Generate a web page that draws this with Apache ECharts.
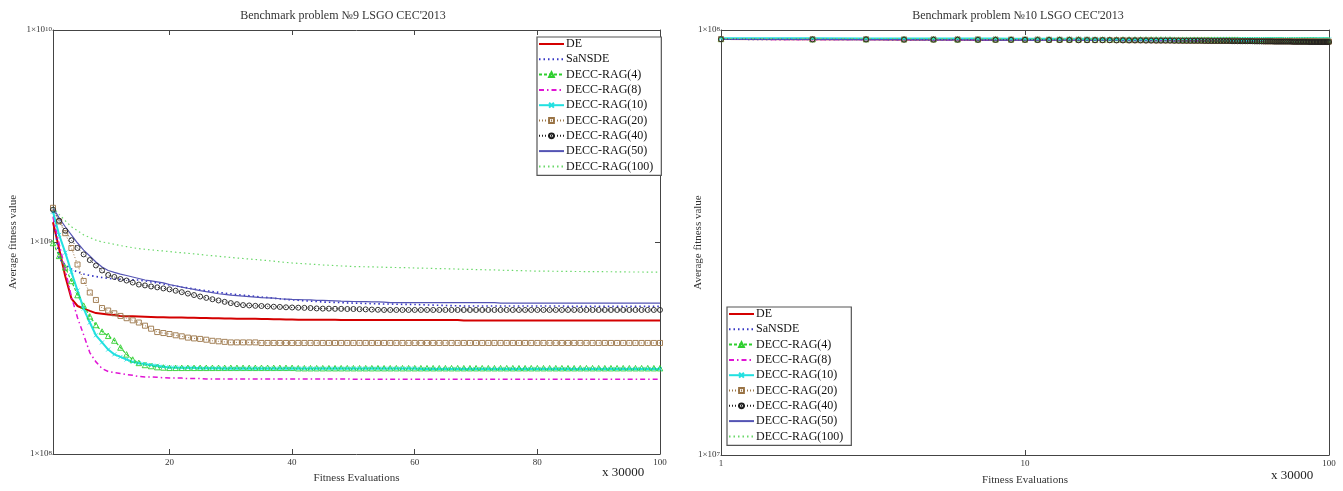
<!DOCTYPE html>
<html>
<head>
<meta charset="utf-8">
<script src="https://cdn.jsdelivr.net/npm/echarts@6/dist/echarts.min.js"></script>
<style>
  html, body { margin: 0; padding: 0; background: #fff; }
  #chart { width: 1343px; height: 491px; }
</style>
</head>
<body>
<div id="chart"></div>
<script>
// Algorithms compared on both benchmark problems
const NAMES = ['DE', 'SaNSDE', 'DECC-RAG(4)', 'DECC-RAG(8)', 'DECC-RAG(10)',
               'DECC-RAG(20)', 'DECC-RAG(40)', 'DECC-RAG(50)', 'DECC-RAG(100)'];

// Evaluation checkpoints 1..100 (each step = 30000 fitness evaluations)
const STEPS = Array.from({ length: 100 }, (_, i) => i + 1);

// Tick labels
const P9_X_TICKS = [20, 40, 60, 80, 100];
const P10_X_TICKS = [1, 10, 100];

// ---- Problem 9: average fitness, in units of 1e8 ----
const P9_UNIT = 1e8;
const P9_DE = [12.4, 9.3, 6.9, 5.41, 4.99, 4.85, 4.73, 4.62, 4.59, 4.55,
  4.52, 4.48, 4.47, 4.46, 4.45, 4.44, 4.43, 4.42, 4.42, 4.41,
  4.40, 4.40, 4.39, 4.39, 4.38, 4.38, 4.37, 4.37, 4.36, 4.36,
  4.35, 4.35, 4.34, 4.34, 4.33, 4.33, 4.32, 4.32, 4.31, 4.31,
  4.30, 4.30, 4.30, 4.30, 4.30, 4.30, 4.30, 4.29, 4.29, 4.29,
  4.29, 4.29, 4.29, 4.29, 4.29, 4.29, 4.29, 4.29, 4.29, 4.29,
  4.29, 4.29, 4.29, 4.29, 4.29, 4.29, 4.29, 4.26, 4.26, 4.26,
  4.26, 4.26, 4.26, 4.26, 4.26, 4.26, 4.26, 4.26, 4.26, 4.26,
  4.26, 4.26, 4.26, 4.26, 4.26, 4.26, 4.26, 4.26, 4.26, 4.26,
  4.26, 4.26, 4.26, 4.26, 4.26, 4.26, 4.26, 4.26, 4.26, 4.26];
const P9_SANSDE = [13.9, 8.32, 7.79, 7.46, 7.21, 7.06, 6.95, 6.87, 6.80, 6.74,
  6.69, 6.65, 6.64, 6.63, 6.62, 6.55, 6.48, 6.41, 6.34, 6.27,
  6.20, 6.13, 6.07, 6.00, 5.94, 5.89, 5.84, 5.79, 5.74, 5.69,
  5.65, 5.61, 5.58, 5.54, 5.50, 5.47, 5.43, 5.40, 5.36, 5.33,
  5.31, 5.28, 5.26, 5.24, 5.21, 5.20, 5.19, 5.18, 5.16, 5.15,
  5.14, 5.13, 5.12, 5.11, 5.10, 5.10, 5.09, 5.08, 5.08, 5.07,
  5.06, 5.05, 5.04, 5.03, 5.02, 5.01, 5.00, 4.99, 4.99, 4.99,
  4.99, 4.99, 4.99, 4.99, 4.99, 4.99, 4.99, 4.99, 4.99, 4.99,
  4.99, 4.99, 4.99, 4.99, 4.97, 4.97, 4.97, 4.97, 4.97, 4.97,
  4.97, 4.97, 4.97, 4.97, 4.97, 4.97, 4.97, 4.97, 4.97, 4.97];
const P9_RAG4 = [9.89, 8.60, 7.59, 6.55, 5.62, 5.01, 4.46, 4.06, 3.78, 3.61,
  3.43, 3.18, 2.95, 2.79, 2.69, 2.63, 2.60, 2.57, 2.56, 2.55,
  2.55, 2.55, 2.55, 2.55, 2.55, 2.55, 2.55, 2.55, 2.55, 2.55,
  2.55, 2.55, 2.55, 2.55, 2.55, 2.55, 2.55, 2.55, 2.55, 2.55,
  2.54, 2.54, 2.54, 2.54, 2.54, 2.54, 2.54, 2.54, 2.54, 2.54,
  2.54, 2.54, 2.54, 2.54, 2.54, 2.54, 2.54, 2.54, 2.54, 2.54,
  2.54, 2.54, 2.54, 2.54, 2.54, 2.54, 2.54, 2.54, 2.54, 2.54,
  2.54, 2.54, 2.54, 2.54, 2.54, 2.54, 2.54, 2.54, 2.54, 2.54,
  2.54, 2.54, 2.54, 2.54, 2.54, 2.54, 2.54, 2.54, 2.54, 2.54,
  2.54, 2.54, 2.54, 2.54, 2.54, 2.54, 2.54, 2.54, 2.54, 2.54];
const P9_RAG8 = [13.1, 9.8, 7.38, 5.53, 4.39, 3.65, 3.01, 2.72, 2.53, 2.45,
  2.42, 2.40, 2.37, 2.35, 2.32, 2.31, 2.31, 2.30, 2.29, 2.28,
  2.28, 2.28, 2.27, 2.27, 2.27, 2.26, 2.26, 2.26, 2.26, 2.26,
  2.26, 2.26, 2.26, 2.26, 2.26, 2.26, 2.26, 2.26, 2.26, 2.26,
  2.26, 2.26, 2.26, 2.26, 2.26, 2.26, 2.26, 2.26, 2.26, 2.25,
  2.25, 2.25, 2.25, 2.25, 2.25, 2.25, 2.25, 2.25, 2.25, 2.25,
  2.25, 2.25, 2.25, 2.25, 2.25, 2.25, 2.25, 2.25, 2.25, 2.25,
  2.25, 2.25, 2.25, 2.25, 2.25, 2.25, 2.25, 2.25, 2.25, 2.25,
  2.25, 2.25, 2.25, 2.25, 2.25, 2.25, 2.25, 2.25, 2.25, 2.25,
  2.25, 2.25, 2.25, 2.25, 2.25, 2.25, 2.25, 2.25, 2.25, 2.25];
const P9_RAG10 = [13.9, 10.8, 8.91, 7.21, 5.90, 4.85, 4.17, 3.63, 3.36, 3.11,
  2.95, 2.87, 2.79, 2.72, 2.68, 2.66, 2.63, 2.61, 2.58, 2.56,
  2.56, 2.55, 2.55, 2.55, 2.54, 2.54, 2.54, 2.54, 2.53, 2.53,
  2.53, 2.53, 2.53, 2.53, 2.53, 2.53, 2.53, 2.53, 2.53, 2.53,
  2.53, 2.53, 2.53, 2.53, 2.53, 2.53, 2.53, 2.53, 2.53, 2.53,
  2.53, 2.53, 2.53, 2.53, 2.53, 2.53, 2.53, 2.53, 2.53, 2.53,
  2.52, 2.52, 2.52, 2.52, 2.52, 2.52, 2.52, 2.52, 2.52, 2.52,
  2.52, 2.52, 2.52, 2.52, 2.52, 2.52, 2.52, 2.52, 2.52, 2.52,
  2.52, 2.52, 2.52, 2.52, 2.52, 2.52, 2.52, 2.52, 2.52, 2.52,
  2.52, 2.52, 2.52, 2.52, 2.52, 2.52, 2.52, 2.52, 2.52, 2.52];
const P9_RAG20 = [14.5, 12.5, 11.0, 9.37, 7.83, 6.55, 5.78, 5.33, 4.88, 4.75,
  4.61, 4.48, 4.37, 4.27, 4.17, 4.03, 3.90, 3.76, 3.72, 3.68,
  3.63, 3.59, 3.54, 3.51, 3.49, 3.46, 3.42, 3.40, 3.38, 3.36,
  3.36, 3.36, 3.36, 3.36, 3.34, 3.34, 3.34, 3.34, 3.34, 3.34,
  3.34, 3.34, 3.34, 3.34, 3.34, 3.34, 3.34, 3.34, 3.34, 3.34,
  3.34, 3.34, 3.34, 3.34, 3.34, 3.34, 3.34, 3.34, 3.34, 3.34,
  3.34, 3.34, 3.34, 3.34, 3.34, 3.34, 3.34, 3.34, 3.34, 3.34,
  3.34, 3.34, 3.34, 3.34, 3.34, 3.34, 3.34, 3.34, 3.34, 3.34,
  3.34, 3.34, 3.34, 3.34, 3.34, 3.34, 3.34, 3.34, 3.34, 3.34,
  3.34, 3.34, 3.34, 3.34, 3.34, 3.34, 3.34, 3.34, 3.34, 3.34];
const P9_RAG40 = [14.2, 12.6, 11.3, 10.2, 9.37, 8.74, 8.22, 7.75, 7.34, 6.99,
  6.84, 6.69, 6.58, 6.44, 6.30, 6.24, 6.17, 6.11, 6.04, 5.98,
  5.89, 5.80, 5.71, 5.62, 5.53, 5.45, 5.37, 5.30, 5.22, 5.15,
  5.09, 5.04, 5.02, 5.00, 4.99, 4.97, 4.95, 4.94, 4.92, 4.91,
  4.90, 4.89, 4.88, 4.86, 4.85, 4.85, 4.84, 4.84, 4.83, 4.83,
  4.82, 4.81, 4.80, 4.79, 4.78, 4.78, 4.78, 4.78, 4.78, 4.78,
  4.78, 4.78, 4.78, 4.78, 4.78, 4.78, 4.78, 4.78, 4.78, 4.78,
  4.78, 4.78, 4.78, 4.78, 4.78, 4.78, 4.78, 4.78, 4.78, 4.78,
  4.78, 4.78, 4.78, 4.78, 4.78, 4.78, 4.78, 4.78, 4.78, 4.78,
  4.78, 4.78, 4.78, 4.78, 4.78, 4.78, 4.78, 4.78, 4.78, 4.78];
const P9_RAG50 = [14.5, 13.0, 11.8, 10.8, 9.89, 9.16, 8.59, 8.05, 7.62, 7.34,
  7.19, 7.06, 6.95, 6.84, 6.73, 6.62, 6.55, 6.48, 6.41, 6.30,
  6.22, 6.13, 6.05, 5.98, 5.90, 5.83, 5.77, 5.70, 5.66, 5.62,
  5.59, 5.56, 5.53, 5.50, 5.47, 5.45, 5.43, 5.40, 5.38, 5.36,
  5.35, 5.34, 5.33, 5.31, 5.30, 5.29, 5.28, 5.26, 5.25, 5.24,
  5.23, 5.23, 5.22, 5.22, 5.21, 5.18, 5.18, 5.18, 5.18, 5.18,
  5.18, 5.18, 5.18, 5.18, 5.18, 5.18, 5.18, 5.18, 5.18, 5.18,
  5.18, 5.18, 5.18, 5.15, 5.15, 5.15, 5.15, 5.15, 5.15, 5.15,
  5.15, 5.15, 5.15, 5.15, 5.15, 5.15, 5.15, 5.15, 5.15, 5.15,
  5.15, 5.15, 5.15, 5.15, 5.15, 5.15, 5.15, 5.15, 5.15, 5.15];
const P9_RAG100 = [14.6, 13.5, 12.6, 11.8, 11.3, 10.8, 10.5, 10.2, 10.0, 9.89,
  9.75, 9.62, 9.51, 9.40, 9.30, 9.24, 9.18, 9.12, 9.07, 9.01,
  8.95, 8.90, 8.84, 8.79, 8.73, 8.67, 8.62, 8.56, 8.51, 8.45,
  8.40, 8.36, 8.31, 8.27, 8.22, 8.17, 8.12, 8.06, 8.01, 7.96,
  7.93, 7.90, 7.86, 7.83, 7.79, 7.77, 7.74, 7.71, 7.69, 7.66,
  7.65, 7.64, 7.63, 7.62, 7.60, 7.59, 7.58, 7.57, 7.56, 7.54,
  7.53, 7.52, 7.50, 7.49, 7.48, 7.47, 7.45, 7.44, 7.43, 7.41,
  7.40, 7.39, 7.38, 7.36, 7.35, 7.34, 7.33, 7.32, 7.30, 7.29,
  7.29, 7.28, 7.28, 7.27, 7.27, 7.26, 7.26, 7.25, 7.25, 7.25,
  7.24, 7.24, 7.23, 7.23, 7.22, 7.22, 7.22, 7.21, 7.21, 7.21];

// ---- Problem 10: average fitness, in units of 1e6 ----
const P10_UNIT = 1e6;
const P10_DE = [95.2, 95.1, 95.1, 95.0, 95.0, 95.0, 94.9, 94.9, 94.9, 94.9,
  94.8, 94.8, 94.8, 94.8, 94.8, 94.8, 94.8, 94.8, 94.8, 94.8,
  94.7, 94.7, 94.7, 94.7, 94.7, 94.7, 94.7, 94.7, 94.7, 94.7,
  94.6, 94.6, 94.6, 94.6, 94.6, 94.6, 94.6, 94.6, 94.6, 94.6,
  94.5, 94.5, 94.5, 94.5, 94.5, 94.5, 94.5, 94.5, 94.5, 94.5,
  94.4, 94.4, 94.4, 94.4, 94.4, 94.4, 94.4, 94.4, 94.4, 94.4,
  94.3, 94.3, 94.3, 94.3, 94.3, 94.3, 94.3, 94.3, 94.3, 94.3,
  94.2, 94.2, 94.2, 94.2, 94.2, 94.2, 94.2, 94.2, 94.2, 94.2,
  94.1, 94.1, 94.1, 94.1, 94.1, 94.1, 94.1, 94.1, 94.1, 94.1,
  94.0, 94.0, 94.0, 94.0, 94.0, 94.0, 94.0, 94.0, 94.0, 94.0];
const P10_SANSDE = [95.1, 95.0, 95.0, 94.9, 94.9, 94.9, 94.8, 94.8, 94.8, 94.8,
  94.7, 94.7, 94.7, 94.7, 94.7, 94.6, 94.6, 94.6, 94.6, 94.6,
  94.5, 94.5, 94.5, 94.5, 94.5, 94.4, 94.4, 94.4, 94.4, 94.4,
  94.3, 94.3, 94.3, 94.3, 94.3, 94.3, 94.3, 94.3, 94.3, 94.3,
  94.2, 94.2, 94.2, 94.2, 94.2, 94.2, 94.2, 94.2, 94.2, 94.2,
  94.1, 94.1, 94.1, 94.1, 94.1, 94.1, 94.1, 94.1, 94.1, 94.1,
  94.0, 94.0, 94.0, 94.0, 94.0, 94.0, 94.0, 94.0, 94.0, 94.0,
  93.9, 93.9, 93.9, 93.9, 93.9, 93.9, 93.9, 93.9, 93.9, 93.9,
  93.8, 93.8, 93.8, 93.8, 93.8, 93.8, 93.8, 93.8, 93.8, 93.8,
  93.7, 93.7, 93.7, 93.7, 93.7, 93.7, 93.7, 93.7, 93.7, 93.7];
const P10_RAG4 = [95.3, 95.2, 95.2, 95.2, 95.2, 95.1, 95.1, 95.1, 95.1, 95.1,
  95.1, 95.1, 95.1, 95.1, 95.1, 95.0, 95.0, 95.0, 95.0, 95.0,
  95.0, 95.0, 95.0, 95.0, 95.0, 95.0, 95.0, 95.0, 95.0, 95.0,
  94.9, 94.9, 94.9, 94.9, 94.9, 94.9, 94.9, 94.9, 94.9, 94.9,
  94.9, 94.9, 94.9, 94.9, 94.9, 94.9, 94.9, 94.9, 94.9, 94.9,
  94.8, 94.8, 94.8, 94.8, 94.8, 94.8, 94.8, 94.8, 94.8, 94.8,
  94.8, 94.8, 94.8, 94.8, 94.8, 94.8, 94.8, 94.8, 94.8, 94.8,
  94.7, 94.7, 94.7, 94.7, 94.7, 94.7, 94.7, 94.7, 94.7, 94.7,
  94.7, 94.7, 94.7, 94.7, 94.7, 94.7, 94.7, 94.7, 94.7, 94.7,
  94.6, 94.6, 94.6, 94.6, 94.6, 94.6, 94.6, 94.6, 94.6, 94.6];
const P10_RAG8 = [95.1, 95.0, 95.0, 95.0, 94.9, 94.9, 94.9, 94.8, 94.8, 94.8,
  94.7, 94.7, 94.7, 94.7, 94.7, 94.6, 94.6, 94.6, 94.6, 94.6,
  94.5, 94.5, 94.5, 94.5, 94.5, 94.4, 94.4, 94.4, 94.4, 94.4,
  94.3, 94.3, 94.3, 94.3, 94.3, 94.3, 94.3, 94.3, 94.3, 94.3,
  94.2, 94.2, 94.2, 94.2, 94.2, 94.2, 94.2, 94.2, 94.2, 94.2,
  94.1, 94.1, 94.1, 94.1, 94.1, 94.1, 94.1, 94.1, 94.1, 94.1,
  94.0, 94.0, 94.0, 94.0, 94.0, 94.0, 94.0, 94.0, 94.0, 94.0,
  93.9, 93.9, 93.9, 93.9, 93.9, 93.9, 93.9, 93.9, 93.9, 93.9,
  93.8, 93.8, 93.8, 93.8, 93.8, 93.8, 93.8, 93.8, 93.8, 93.8,
  93.8, 93.8, 93.8, 93.8, 93.8, 93.8, 93.8, 93.8, 93.8, 93.8];
const P10_RAG10 = [95.6, 95.6, 95.5, 95.5, 95.5, 95.5, 95.5, 95.5, 95.4, 95.4,
  95.4, 95.4, 95.4, 95.4, 95.4, 95.4, 95.4, 95.4, 95.3, 95.3,
  95.3, 95.3, 95.3, 95.3, 95.3, 95.3, 95.3, 95.3, 95.3, 95.3,
  95.2, 95.2, 95.2, 95.2, 95.2, 95.2, 95.2, 95.2, 95.2, 95.2,
  95.2, 95.2, 95.2, 95.2, 95.2, 95.2, 95.2, 95.2, 95.2, 95.2,
  95.1, 95.1, 95.1, 95.1, 95.1, 95.1, 95.1, 95.1, 95.1, 95.1,
  95.1, 95.1, 95.1, 95.1, 95.1, 95.1, 95.1, 95.1, 95.1, 95.1,
  95.0, 95.0, 95.0, 95.0, 95.0, 95.0, 95.0, 95.0, 95.0, 95.0,
  95.0, 95.0, 95.0, 95.0, 95.0, 95.0, 95.0, 95.0, 95.0, 95.0,
  95.0, 95.0, 95.0, 95.0, 95.0, 95.0, 95.0, 95.0, 95.0, 95.0];
const P10_RAG20 = [95.2, 95.1, 95.1, 95.0, 95.0, 95.0, 95.0, 94.9, 94.9, 94.9,
  94.9, 94.8, 94.8, 94.8, 94.8, 94.8, 94.7, 94.7, 94.7, 94.7,
  94.7, 94.6, 94.6, 94.6, 94.6, 94.6, 94.5, 94.5, 94.5, 94.5,
  94.5, 94.5, 94.4, 94.4, 94.4, 94.4, 94.4, 94.4, 94.4, 94.4,
  94.3, 94.3, 94.3, 94.3, 94.3, 94.3, 94.3, 94.3, 94.3, 94.3,
  94.2, 94.2, 94.2, 94.2, 94.2, 94.2, 94.2, 94.2, 94.2, 94.2,
  94.1, 94.1, 94.1, 94.1, 94.1, 94.1, 94.1, 94.1, 94.1, 94.1,
  94.1, 94.1, 94.1, 94.1, 94.1, 94.0, 94.0, 94.0, 94.0, 94.0,
  94.0, 94.0, 94.0, 94.0, 94.0, 94.0, 94.0, 94.0, 94.0, 94.0,
  93.9, 93.9, 93.9, 93.9, 93.9, 93.9, 93.9, 93.9, 93.9, 93.9];
const P10_RAG40 = [95.1, 95.0, 95.0, 94.9, 94.9, 94.9, 94.8, 94.8, 94.8, 94.8,
  94.7, 94.7, 94.7, 94.7, 94.6, 94.6, 94.6, 94.6, 94.6, 94.5,
  94.5, 94.5, 94.5, 94.5, 94.4, 94.4, 94.4, 94.4, 94.4, 94.4,
  94.3, 94.3, 94.3, 94.3, 94.3, 94.3, 94.3, 94.3, 94.2, 94.2,
  94.2, 94.2, 94.2, 94.2, 94.2, 94.2, 94.2, 94.1, 94.1, 94.1,
  94.1, 94.1, 94.1, 94.1, 94.1, 94.1, 94.0, 94.0, 94.0, 94.0,
  94.0, 94.0, 94.0, 94.0, 94.0, 93.9, 93.9, 93.9, 93.9, 93.9,
  93.9, 93.9, 93.9, 93.9, 93.9, 93.8, 93.8, 93.8, 93.8, 93.8,
  93.8, 93.8, 93.8, 93.8, 93.8, 93.7, 93.7, 93.7, 93.7, 93.7,
  93.7, 93.7, 93.7, 93.7, 93.7, 93.7, 93.7, 93.7, 93.7, 93.7];
const P10_RAG50 = [95.1, 95.0, 94.9, 94.9, 94.8, 94.8, 94.8, 94.7, 94.7, 94.7,
  94.6, 94.6, 94.6, 94.6, 94.6, 94.5, 94.5, 94.5, 94.5, 94.5,
  94.4, 94.4, 94.4, 94.4, 94.4, 94.3, 94.3, 94.3, 94.3, 94.3,
  94.2, 94.2, 94.2, 94.2, 94.2, 94.2, 94.2, 94.2, 94.2, 94.2,
  94.1, 94.1, 94.1, 94.1, 94.1, 94.1, 94.1, 94.1, 94.1, 94.1,
  94.0, 94.0, 94.0, 94.0, 94.0, 94.0, 94.0, 94.0, 94.0, 94.0,
  93.9, 93.9, 93.9, 93.9, 93.9, 93.9, 93.9, 93.9, 93.9, 93.9,
  93.8, 93.8, 93.8, 93.8, 93.8, 93.8, 93.8, 93.8, 93.8, 93.8,
  93.7, 93.7, 93.7, 93.7, 93.7, 93.7, 93.7, 93.7, 93.7, 93.7,
  93.6, 93.6, 93.6, 93.6, 93.6, 93.6, 93.6, 93.6, 93.6, 93.6];
const P10_RAG100 = [95.5, 95.5, 95.5, 95.5, 95.4, 95.4, 95.4, 95.4, 95.4, 95.4,
  95.4, 95.4, 95.4, 95.4, 95.4, 95.4, 95.4, 95.4, 95.4, 95.4,
  95.4, 95.4, 95.4, 95.4, 95.4, 95.4, 95.4, 95.4, 95.4, 95.4,
  95.4, 95.4, 95.4, 95.4, 95.4, 95.4, 95.4, 95.4, 95.4, 95.4,
  95.3, 95.3, 95.3, 95.3, 95.3, 95.3, 95.3, 95.3, 95.3, 95.3,
  95.3, 95.3, 95.3, 95.3, 95.3, 95.3, 95.3, 95.3, 95.3, 95.3,
  95.3, 95.3, 95.3, 95.3, 95.3, 95.3, 95.3, 95.3, 95.3, 95.3,
  95.3, 95.3, 95.3, 95.3, 95.3, 95.3, 95.3, 95.3, 95.3, 95.3,
  95.3, 95.3, 95.3, 95.3, 95.3, 95.3, 95.3, 95.3, 95.3, 95.3,
  95.3, 95.3, 95.3, 95.3, 95.3, 95.3, 95.3, 95.3, 95.3, 95.3];

const P9_SERIES = [P9_DE, P9_SANSDE, P9_RAG4, P9_RAG8, P9_RAG10, P9_RAG20, P9_RAG40, P9_RAG50, P9_RAG100];
const P10_SERIES = [P10_DE, P10_SANSDE, P10_RAG4, P10_RAG8, P10_RAG10, P10_RAG20, P10_RAG40, P10_RAG50, P10_RAG100];

// Line and marker style per algorithm (markers are thin hollow outlines)
const X_MARK = 'path://M0,0L10,10M10,0L0,10';
const STYLES = {
  'DE':            { color: '#d40000', type: 'solid',        width: 2,   symbol: 'none' },
  'SaNSDE':        { color: '#3434c4', type: [1.5, 3],       width: 1.6, symbol: 'none' },
  'DECC-RAG(4)':   { color: '#2fcf2f', type: [3, 2],         width: 1.2, symbol: 'triangle', size: 5.5 },
  'DECC-RAG(8)':   { color: '#e014d4', type: [5, 3, 1.5, 3], width: 1.5, symbol: 'none' },
  'DECC-RAG(10)':  { color: '#22e0e0', type: 'solid',        width: 2,   symbol: X_MARK, size: 4 },
  'DECC-RAG(20)':  { color: '#9a7446', type: [1, 2],         width: 1,   symbol: 'rect', size: 5 },
  'DECC-RAG(40)':  { color: '#1e1e1e', type: [1, 2],         width: 1,   symbol: 'circle', size: 5 },
  'DECC-RAG(50)':  { color: '#5454b4', type: 'solid',        width: 1.2, symbol: 'none' },
  'DECC-RAG(100)': { color: '#6ad86a', type: [1.5, 3],       width: 1.2, symbol: 'none' }
};

const SERIF = 'Liberation Serif, Times New Roman, serif';
const INK = '#333';

function buildSeries(name, values, unit, axisIndex) {
  const s = STYLES[name];
  const hollow = s.symbol === 'triangle' || s.symbol === 'rect' || s.symbol === 'circle';
  return {
    name: name,
    type: 'line',
    xAxisIndex: axisIndex,
    yAxisIndex: axisIndex,
    data: STEPS.map((x, i) => [x, values[i] * unit]),
    symbol: s.symbol,
    symbolSize: s.size || 4,
    showSymbol: s.symbol !== 'none',
    lineStyle: { color: s.color, width: s.width, type: s.type },
    itemStyle: { color: hollow ? 'rgba(255,255,255,0)' : s.color, borderColor: s.color, borderWidth: 0.9 },
    emphasis: { disabled: true },
    silent: true,
    animation: false
  };
}

function powerLabel(v) {
  return '{b|1×10}{s|' + Math.round(Math.log10(v)) + '}';
}
const POWER_RICH = {
  b: { fontFamily: SERIF, fontSize: 9, color: INK, verticalAlign: 'bottom', lineHeight: 9 },
  s: { fontFamily: SERIF, fontSize: 7, color: INK, verticalAlign: 'top', lineHeight: 7, padding: [0, 0, 6, 0] }
};

const frameLine = { show: true, lineStyle: { color: '#444', width: 1 } };
const innerTick = { show: true, inside: true, length: 5, lineStyle: { color: '#444' } };
const nameStyle = { fontFamily: SERIF, fontSize: 11, color: INK };

// Legend entries: series drawn without markers show only their line
function legendItems() {
  return NAMES.map(n => STYLES[n].symbol === 'none'
    ? { name: n, itemStyle: { opacity: 0 } }
    : { name: n });
}

function legendFor(left, top) {
  return {
    data: legendItems(),
    orient: 'vertical',
    left: left,
    top: top,
    itemWidth: 25,
    itemHeight: 6,
    itemGap: 3.3,
    padding: [1, 8, 3, 1],
    borderColor: '#555',
    borderWidth: 1.2,
    backgroundColor: '#fff',
    selectedMode: false,
    textStyle: { fontFamily: SERIF, fontSize: 12, color: '#111', lineHeight: 12, padding: [0, 0, 0, -3] }
  };
}

const chart = echarts.init(document.getElementById('chart'), null, { renderer: 'canvas' });

const option = {
  animation: false,
  backgroundColor: '#fff',
  title: [
    { text: 'Benchmark problem №9 LSGO CEC\'2013', left: 338, top: 5, textAlign: 'center',
      textStyle: { fontFamily: SERIF, fontSize: 12, fontWeight: 'normal', color: INK } },
    { text: 'Benchmark problem №10 LSGO CEC\'2013', left: 1013, top: 5, textAlign: 'center',
      textStyle: { fontFamily: SERIF, fontSize: 12, fontWeight: 'normal', color: INK } }
  ],
  legend: [legendFor(537, 37), legendFor(727, 307)],
  grid: [
    { left: 53, top: 30, width: 607, height: 424 },
    { left: 721, top: 30, width: 608, height: 427 }
  ],
  xAxis: [
    { gridIndex: 0, type: 'value', min: 1, max: 100, position: 'bottom',
      name: 'Fitness Evaluations', nameLocation: 'middle', nameGap: 19, nameMoveOverlap: false,
      nameTextStyle: nameStyle,
      axisLine: frameLine,
      axisTick: Object.assign({ customValues: P9_X_TICKS }, innerTick),
      axisLabel: { customValues: P9_X_TICKS, fontFamily: SERIF, fontSize: 9, color: INK, margin: 4 },
      splitLine: { show: false } },
    { gridIndex: 0, type: 'value', min: 1, max: 100, position: 'top',
      axisLine: frameLine,
      axisTick: Object.assign({ customValues: P9_X_TICKS }, innerTick),
      axisLabel: { show: false }, splitLine: { show: false } },
    { gridIndex: 1, type: 'log', logBase: 10, min: 1, max: 100, position: 'bottom',
      name: 'Fitness Evaluations', nameLocation: 'middle', nameGap: 20, nameMoveOverlap: false,
      nameTextStyle: nameStyle,
      axisLine: frameLine,
      axisTick: Object.assign({ customValues: P10_X_TICKS }, innerTick),
      axisLabel: { customValues: P10_X_TICKS, fontFamily: SERIF, fontSize: 9, color: INK, margin: 4 },
      splitLine: { show: false } },
    { gridIndex: 1, type: 'log', logBase: 10, min: 1, max: 100, position: 'top',
      axisLine: frameLine,
      axisTick: Object.assign({ customValues: P10_X_TICKS }, innerTick),
      axisLabel: { show: false }, splitLine: { show: false } }
  ],
  yAxis: [
    { gridIndex: 0, type: 'log', logBase: 10, min: 1e8, max: 1e10, position: 'left',
      name: 'Average fitness value', nameLocation: 'middle', nameGap: 34, nameMoveOverlap: false,
      nameTextStyle: nameStyle,
      axisLine: frameLine, axisTick: innerTick,
      axisLabel: { formatter: powerLabel, rich: POWER_RICH, margin: 1 },
      splitLine: { show: false } },
    { gridIndex: 0, type: 'log', logBase: 10, min: 1e8, max: 1e10, position: 'right',
      axisLine: frameLine, axisTick: innerTick,
      axisLabel: { show: false }, splitLine: { show: false } },
    { gridIndex: 1, type: 'log', logBase: 10, min: 1e7, max: 1e8, position: 'left',
      name: 'Average fitness value', nameLocation: 'middle', nameGap: 17, nameMoveOverlap: false,
      nameTextStyle: nameStyle,
      axisLine: frameLine, axisTick: innerTick,
      axisLabel: { formatter: powerLabel, rich: POWER_RICH, margin: 1 },
      splitLine: { show: false } },
    { gridIndex: 1, type: 'log', logBase: 10, min: 1e7, max: 1e8, position: 'right',
      axisLine: frameLine, axisTick: innerTick,
      axisLabel: { show: false }, splitLine: { show: false } }
  ],
  graphic: [
    { type: 'text', left: 602, top: 466,
      style: { text: 'x 30000', font: '13px ' + SERIF, fill: '#222' } },
    { type: 'text', left: 1271, top: 469,
      style: { text: 'x 30000', font: '13px ' + SERIF, fill: '#222' } }
  ],
  series: [
    ...NAMES.map((n, i) => buildSeries(n, P9_SERIES[i], P9_UNIT, 0)),
    ...NAMES.map((n, i) => buildSeries(n, P10_SERIES[i], P10_UNIT, 2))
  ]
};

chart.setOption(option);
</script>
</body>
</html>
